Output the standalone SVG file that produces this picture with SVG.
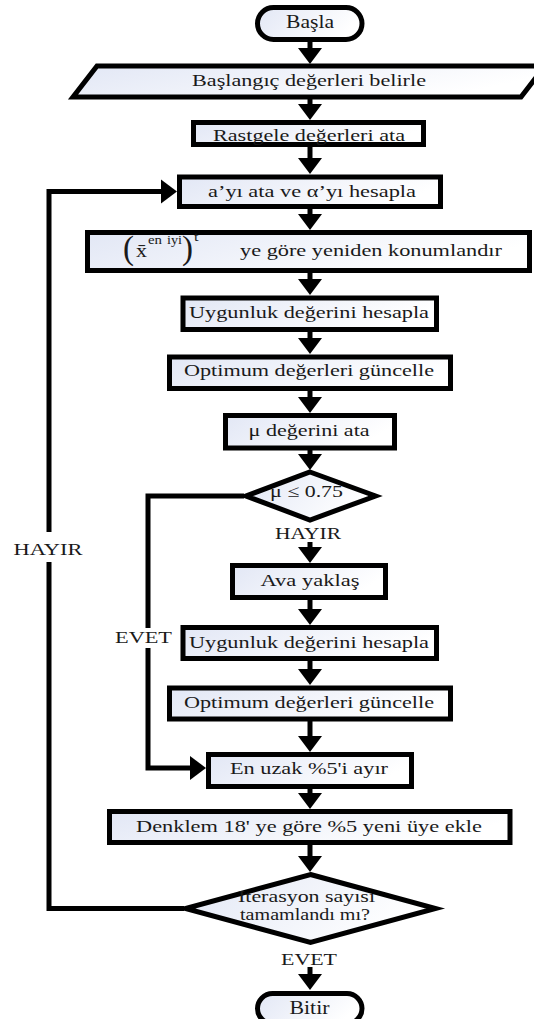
<svg xmlns="http://www.w3.org/2000/svg" width="534" height="1019" viewBox="0 0 534 1019">
<style>
.n{fill:url(#g);stroke:#000;stroke-width:5;stroke-linejoin:miter}
.c{fill:none;stroke:#000;stroke-width:5}
.t{font-family:"Liberation Serif",serif;font-size:17px;font-weight:normal;fill:#1a1a1a}
.s{font-family:"Liberation Serif",serif;font-size:12px;font-weight:normal;fill:#1a1a1a}
</style>
<defs>
<linearGradient id="g" x1="0" y1="0" x2="1" y2="0.3">
<stop offset="0" stop-color="#e2e7f5"/>
<stop offset="1" stop-color="#ffffff"/>
</linearGradient>
<marker id="ah" markerUnits="userSpaceOnUse" markerWidth="17" markerHeight="24" refX="0" refY="12" orient="auto" overflow="visible">
<path d="M0,0 L16,12 L0,24 z" fill="#000"/>
</marker>
</defs>
<rect width="534" height="1019" fill="#fff"/>
<g id="connectors">
<line class="c" x1="310" y1="42" x2="310" y2="48" marker-end="url(#ah)"/>
<line class="c" x1="310" y1="99" x2="310" y2="104" marker-end="url(#ah)"/>
<line class="c" x1="310" y1="147" x2="310" y2="158" marker-end="url(#ah)"/>
<line class="c" x1="310" y1="209" x2="310" y2="214" marker-end="url(#ah)"/>
<line class="c" x1="310" y1="273" x2="310" y2="279" marker-end="url(#ah)"/>
<line class="c" x1="310" y1="332" x2="310" y2="338" marker-end="url(#ah)"/>
<line class="c" x1="310" y1="391" x2="310" y2="397" marker-end="url(#ah)"/>
<line class="c" x1="310" y1="450" x2="310" y2="454" marker-end="url(#ah)"/>
<line class="c" x1="310" y1="542" x2="310" y2="547" marker-end="url(#ah)"/>
<line class="c" x1="310" y1="600" x2="310" y2="609" marker-end="url(#ah)"/>
<line class="c" x1="310" y1="661" x2="310" y2="669" marker-end="url(#ah)"/>
<line class="c" x1="310" y1="721" x2="310" y2="736" marker-end="url(#ah)"/>
<line class="c" x1="310" y1="789" x2="310" y2="793" marker-end="url(#ah)"/>
<line class="c" x1="310" y1="844" x2="310" y2="856" marker-end="url(#ah)"/>
<line class="c" x1="310" y1="967" x2="310" y2="974" marker-end="url(#ah)"/>
<path class="c" d="M244,496 H148 V628"/>
<path class="c" d="M148,648 V768 H190" marker-end="url(#ah)"/>
<path class="c" d="M184,908.5 H49 V562"/>
<path class="c" d="M49,532 V191.5 H161" marker-end="url(#ah)"/>
</g>
<g id="basla">
<rect class="n" x="257.5" y="7.5" width="104.5" height="32" rx="16"/>
<text class="t" x="286" y="28" textLength="48" lengthAdjust="spacingAndGlyphs" style="font-size:18px">Başla</text>
</g>
<g id="baslangic">
<polygon class="n" points="97,66 545,66 521,97 73,97"/>
<text class="t" x="192" y="86" textLength="234" lengthAdjust="spacingAndGlyphs">Başlangıç değerleri belirle</text>
</g>
<g id="rastgele">
<rect class="n" x="193.5" y="122.5" width="230" height="22"/>
<text class="t" x="213" y="141" textLength="192" lengthAdjust="spacingAndGlyphs">Rastgele değerleri ata</text>
</g>
<g id="alpha">
<rect class="n" x="179.5" y="177" width="261" height="29.5"/>
<text class="t" x="208" y="197" textLength="208" lengthAdjust="spacingAndGlyphs">a’yı ata ve α’yı hesapla</text>
</g>
<g id="konum">
<rect class="n" x="87.5" y="232.5" width="442" height="38"/>
<text class="t" x="123" y="259" style="font-size:34px" textLength="11" lengthAdjust="spacingAndGlyphs">(</text>
<text class="t" x="136" y="257" style="font-size:19px" textLength="11" lengthAdjust="spacingAndGlyphs">x̄</text>
<text class="s" x="148" y="244" textLength="14" lengthAdjust="spacingAndGlyphs">en</text>
<text class="s" x="167" y="244" textLength="15" lengthAdjust="spacingAndGlyphs">iyi</text>
<text class="t" x="182" y="259" style="font-size:34px" textLength="11" lengthAdjust="spacingAndGlyphs">)</text>
<text class="s" x="194" y="241" textLength="4.5" lengthAdjust="spacingAndGlyphs">t</text>
<text class="t" x="240" y="256" textLength="262" lengthAdjust="spacingAndGlyphs">ye göre yeniden konumlandır</text>
</g>
<g id="uygunluk1">
<rect class="n" x="183" y="298" width="253.5" height="31.5"/>
<text class="t" x="189" y="318" textLength="240" lengthAdjust="spacingAndGlyphs">Uygunluk değerini hesapla</text>
</g>
<g id="optimum1">
<rect class="n" x="169.5" y="357" width="281" height="31.5"/>
<text class="t" x="184" y="376" textLength="250" lengthAdjust="spacingAndGlyphs">Optimum değerleri güncelle</text>
</g>
<g id="mu">
<rect class="n" x="225.5" y="415.5" width="169" height="32.5"/>
<text class="t" x="248.6" y="436" textLength="121" lengthAdjust="spacingAndGlyphs">μ değerini ata</text>
</g>
<g id="karar1">
<polygon class="n" points="310,472 375.5,496 310,520 246,496"/>
<text class="t" x="270" y="497" textLength="73" lengthAdjust="spacingAndGlyphs">μ ≤ 0.75</text>
<text class="t" x="275" y="539" textLength="66" lengthAdjust="spacingAndGlyphs">HAYIR</text>
</g>
<g id="ava">
<rect class="n" x="232.5" y="565.5" width="153" height="32"/>
<text class="t" x="260.5" y="586" textLength="99" lengthAdjust="spacingAndGlyphs">Ava yaklaş</text>
</g>
<g id="uygunluk2">
<rect class="n" x="183" y="627.5" width="253.5" height="31"/>
<text class="t" x="189" y="648" textLength="240" lengthAdjust="spacingAndGlyphs">Uygunluk değerini hesapla</text>
</g>
<g id="optimum2">
<rect class="n" x="169.5" y="688" width="281" height="31"/>
<text class="t" x="184" y="708" textLength="250" lengthAdjust="spacingAndGlyphs">Optimum değerleri güncelle</text>
</g>
<g id="enuzak">
<rect class="n" x="208.5" y="754.5" width="203" height="32"/>
<text class="t" x="230" y="774" textLength="158" lengthAdjust="spacingAndGlyphs">En uzak %5'i ayır</text>
</g>
<g id="denklem">
<rect class="n" x="109.5" y="811.5" width="400.5" height="31"/>
<text class="t" x="136" y="832" textLength="346" lengthAdjust="spacingAndGlyphs">Denklem 18' ye göre %5 yeni üye ekle</text>
</g>
<g id="karar2">
<polygon class="n" points="310.5,874.5 435.5,908.5 310.5,942.5 185.5,908.5"/>
<text class="t" x="238" y="902" textLength="137" lengthAdjust="spacingAndGlyphs">Iterasyon sayısı</text>
<text class="t" x="240" y="920" textLength="130" lengthAdjust="spacingAndGlyphs">tamamlandı mı?</text>
<text class="t" x="281" y="965" textLength="56" lengthAdjust="spacingAndGlyphs">EVET</text>
</g>
<g id="labels">
<text class="t" x="13.5" y="555" textLength="69" lengthAdjust="spacingAndGlyphs">HAYIR</text>
<text class="t" x="115" y="643" textLength="57" lengthAdjust="spacingAndGlyphs">EVET</text>
</g>
<g id="bitir">
<rect class="n" x="257.5" y="993.5" width="104.5" height="30" rx="15"/>
<text class="t" x="289.5" y="1014" textLength="40" lengthAdjust="spacingAndGlyphs" style="font-size:18px">Bitir</text>
</g>
</svg>
